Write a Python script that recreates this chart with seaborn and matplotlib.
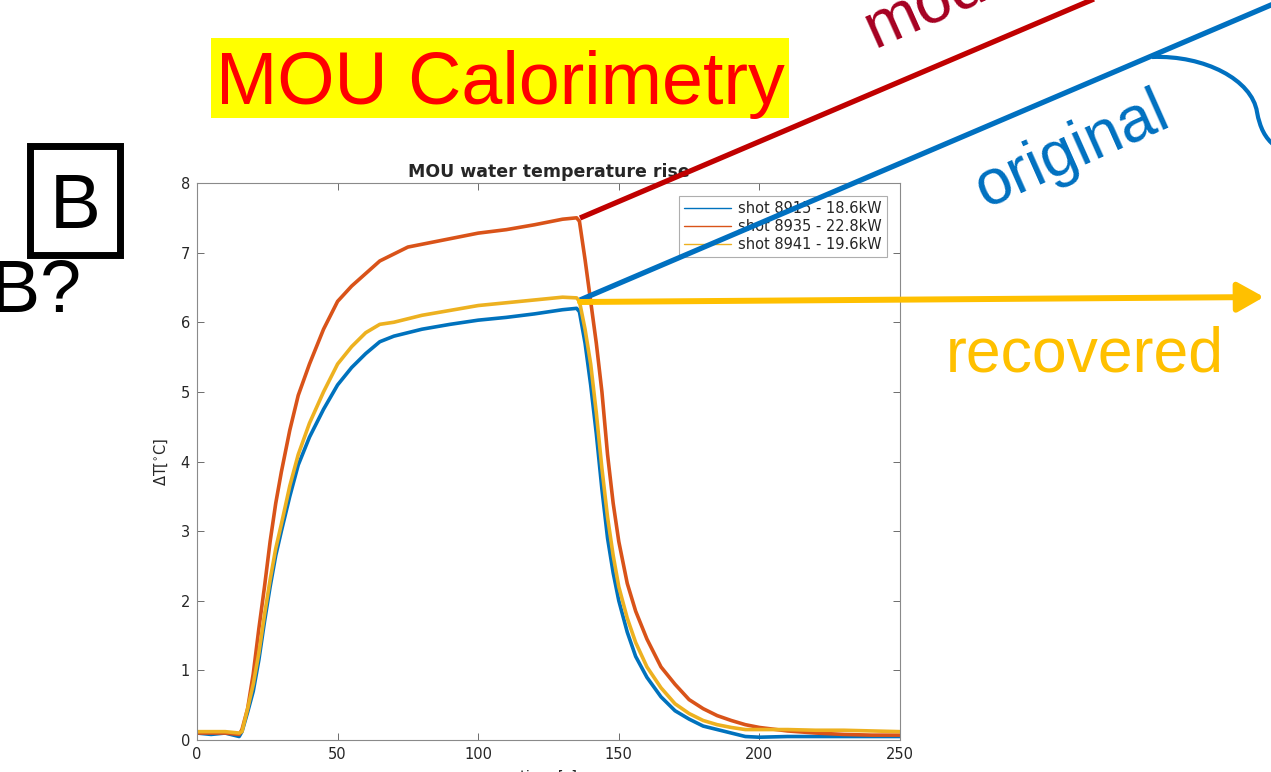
import numpy as np
import pandas as pd
import matplotlib
matplotlib.use("Agg")
import matplotlib.pyplot as plt
import seaborn as sns
from matplotlib.patches import Rectangle, PathPatch
from matplotlib.path import Path

# ---------------- data ----------------
time_s = [0, 5, 10, 15, 16, 18, 20, 22, 24, 26, 28, 30, 33, 36, 40, 45, 50, 55, 60, 65,
          70, 75, 80, 90, 100, 110, 120, 130, 135, 136, 138, 140, 142, 144, 146, 148, 150,
          153, 156, 160, 165, 170, 175, 180, 185, 190, 195, 200, 210, 220, 230, 240, 250]

shot_8915 = [0.10, 0.08, 0.10, 0.05, 0.12, 0.40, 0.70, 1.15, 1.70, 2.20, 2.65, 3.00, 3.50, 3.95,
             4.35, 4.75, 5.10, 5.35, 5.55, 5.72, 5.80, 5.85, 5.90, 5.97, 6.03, 6.07, 6.12, 6.18,
             6.20, 6.15, 5.70, 5.10, 4.40, 3.60, 2.90, 2.40, 2.00, 1.55, 1.20, 0.90, 0.62, 0.42,
             0.30, 0.20, 0.15, 0.10, 0.05, 0.04, 0.05, 0.05, 0.05, 0.05, 0.05]

shot_8935 = [0.10, 0.10, 0.10, 0.08, 0.15, 0.45, 0.95, 1.60, 2.20, 2.85, 3.40, 3.85, 4.45, 4.95,
             5.40, 5.90, 6.30, 6.52, 6.70, 6.88, 6.98, 7.08, 7.12, 7.20, 7.28, 7.33, 7.40, 7.48,
             7.50, 7.45, 6.90, 6.30, 5.70, 5.00, 4.10, 3.40, 2.85, 2.25, 1.85, 1.45, 1.05, 0.80,
             0.58, 0.45, 0.35, 0.28, 0.22, 0.18, 0.13, 0.10, 0.08, 0.07, 0.07]

shot_8941 = [0.12, 0.12, 0.12, 0.10, 0.12, 0.45, 0.80, 1.25, 1.80, 2.30, 2.75, 3.10, 3.65, 4.10,
             4.55, 5.00, 5.40, 5.65, 5.85, 5.97, 6.00, 6.05, 6.10, 6.17, 6.24, 6.28, 6.32, 6.36,
             6.35, 6.30, 5.90, 5.40, 4.70, 3.90, 3.20, 2.65, 2.20, 1.75, 1.40, 1.05, 0.75, 0.52,
             0.38, 0.28, 0.22, 0.18, 0.15, 0.15, 0.15, 0.14, 0.14, 0.13, 0.12]

series_labels = ["shot 8915 - 18.6kW", "shot 8935 - 22.8kW", "shot 8941 - 19.6kW"]
series_colors = ["#0072BD", "#D95319", "#EDB120"]
x_ticks = [0, 50, 100, 150, 200, 250]
y_ticks = [0, 1, 2, 3, 4, 5, 6, 7, 8]
chart_title = "MOU water temperature rise"
x_label = "time [s]"
y_label = r"$\Delta$T[$^{\circ}$C]"
slide_title = "MOU Calorimetry"

# ---------------- figure ----------------
sns.set_style("white")
plt.rcParams["font.family"] = ["DejaVu Sans"]
plt.rcParams["mathtext.default"] = "regular"

W, H = 1271, 772
fig = plt.figure(figsize=(W / 100, H / 100), dpi=100)
fig.patch.set_facecolor("white")

def px_axes(x0, y0, x1, y1):
    return [x0 / W, 1 - y1 / H, (x1 - x0) / W, (y1 - y0) / H]

ax = fig.add_axes(px_axes(197, 183, 900, 740))

df = pd.DataFrame({
    "time": time_s * 3,
    "dT": shot_8915 + shot_8935 + shot_8941,
    "shot": [series_labels[0]] * len(time_s) + [series_labels[1]] * len(time_s)
            + [series_labels[2]] * len(time_s),
})
sns.lineplot(data=df, x="time", y="dT", hue="shot", hue_order=series_labels,
             palette=dict(zip(series_labels, series_colors)), estimator=None,
             sort=False, linewidth=2.6, ax=ax)

ax.set_xlim(0, 250)
ax.set_ylim(0, 8)
ax.set_xticks(x_ticks)
ax.set_yticks(y_ticks)
ax.tick_params(direction="in", length=5, width=0.6, color="#555555",
               labelsize=10.5, labelcolor="#262626", top=True, right=True,
               bottom=True, left=True, pad=5)
for s in ax.spines.values():
    s.set_color("#8a8a8a")
    s.set_linewidth(0.8)
ax.set_title(chart_title, fontsize=12.5, fontweight="bold", color="#262626", pad=4)
ax.set_xlabel(x_label, fontsize=10.5, color="#262626", labelpad=6)
ax.set_ylabel(y_label, fontsize=10.5, color="#262626", labelpad=8)

leg = ax.legend(loc="upper right", fontsize=10.5, frameon=True, fancybox=False,
                edgecolor="#9a9a9a", handlelength=3.2, borderaxespad=0.9,
                labelspacing=0.2, handletextpad=0.5, borderpad=0.35)
leg.get_frame().set_linewidth(0.8)
for ln in leg.get_lines():
    ln.set_linewidth(1.0)

# ---------------- slide annotations (pixel overlay) ----------------
ov = fig.add_axes([0, 0, 1, 1])
ov.set_xlim(0, W)
ov.set_ylim(H, 0)
ov.axis("off")
ov.patch.set_alpha(0)

SANS = "Liberation Sans"

# title banner
ov.add_patch(Rectangle((211, 38), 578, 80, facecolor="#FFFF00", edgecolor="none"))
ov.text(500, 104, slide_title, ha="center", va="baseline", fontsize=53,
        color="#FF0000", family=SANS)

# boxed B
ov.add_patch(Rectangle((30, 146), 90, 109, fill=False, edgecolor="black",
                       linewidth=5, joinstyle="miter"))
ov.text(75, 228, "B", ha="center", va="baseline", fontsize=55, color="black", family=SANS)
ov.text(-9, 312, "B?", ha="left", va="baseline", fontsize=53, color="black", family=SANS)

# modified (red) line
ov.plot([580, 1115], [218, -10], color="#C00000", linewidth=3.8, solid_capstyle="butt")
ov.text(874, 48, "modified", rotation=24, rotation_mode="anchor", ha="left",
        va="baseline", fontsize=47, color="#A50021", family=SANS)

# original (blue) line and brace
ov.plot([580, 1285], [300, -1], color="#0070C0", linewidth=3.8, solid_capstyle="butt")
ov.text(985, 208, "original", rotation=24, rotation_mode="anchor", ha="left",
        va="baseline", fontsize=46, color="#0070C0", family=SANS)
brace = Path([(1152, 57), (1205, 55), (1252, 80), (1257, 112),
              (1260, 128), (1265, 138), (1275, 146)],
             [Path.MOVETO, Path.CURVE4, Path.CURVE4, Path.CURVE4,
              Path.CURVE4, Path.CURVE4, Path.CURVE4])
ov.add_patch(PathPatch(brace, fill=False, edgecolor="#0070C0", linewidth=3.0))

# recovered (yellow) arrow
ov.annotate("", xy=(1264, 297), xytext=(580, 302),
            arrowprops=dict(arrowstyle="-|>,head_length=1.6,head_width=0.9",
                            color="#FFC000", lw=4.3, shrinkA=0, shrinkB=0))
ov.text(1085, 372, "recovered", ha="center", va="baseline", fontsize=45,
        color="#FFC000", family=SANS)

fig.savefig("out.png", dpi=100, facecolor="white")
